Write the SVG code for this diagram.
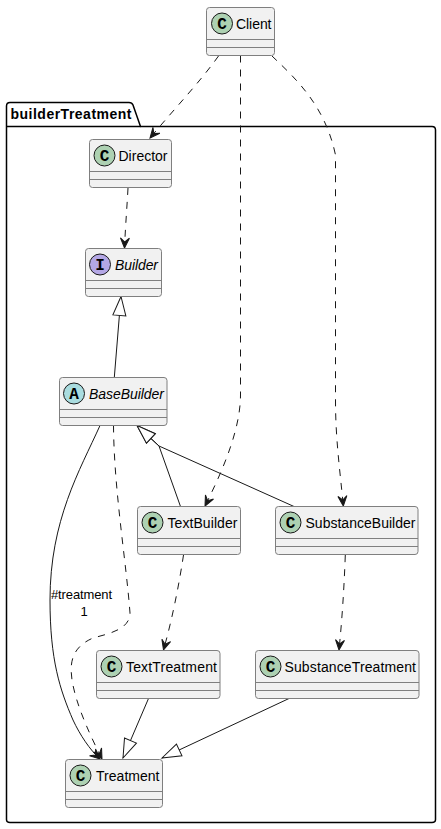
<svg xmlns="http://www.w3.org/2000/svg" width="441" height="829" viewBox="0 0 441 829">
<style>
text{font-family:"Liberation Sans",Arial,sans-serif;font-size:14px;fill:#000}
.i{font-style:italic}
.box{fill:#F1F1F1;stroke:#7f7f7f;stroke-width:1}
.div{stroke:#7f7f7f;stroke-width:1;fill:none}
.sp{stroke:#181818;stroke-width:1;fill:#ADD1B2}
.sp.int{fill:#B4A7E5}
.sp.abs{fill:#A9DCDF}
.g{font-family:"Liberation Mono",monospace;font-weight:bold;font-size:16px;text-anchor:middle}
.c{fill:none;stroke:#181818;stroke-width:1}
.d{stroke-dasharray:7 7;marker-end:url(#open)}
.s{marker-end:url(#open)}
.t{marker-end:url(#tri)}
.l{font-size:13px}
</style>
<defs>
<marker id="open" markerUnits="userSpaceOnUse" markerWidth="12" markerHeight="12" refX="10" refY="5.500" orient="auto" overflow="visible">
<path d="M10 5.500L0 1L4 5.500L0 10Z" fill="#181818" stroke="#181818" stroke-width="1" stroke-dasharray="none"/>
</marker>
<marker id="tri" markerUnits="userSpaceOnUse" markerWidth="22" markerHeight="16" refX="19" refY="8" orient="auto" overflow="visible">
<path d="M19 8L0 1.500V14.500Z" fill="#fff" stroke="#181818" stroke-width="1"/>
</marker>
</defs>
<g id="package-builderTreatment">
<path d="M10 102.500H129Q132 102.500 133 105L140.500 126.500H432Q435.500 126.500 435.500 130V819.500Q435.500 822.500 432 822.500H10Q6.500 822.500 6.500 819.500V106Q6.500 102.500 10 102.500Z" fill="#fff" stroke="#000" stroke-width="1.500"/>
<path d="M6.500 126.500H140.500" fill="none" stroke="#000" stroke-width="1.500"/>
<text x="10.500" y="119" font-weight="bold" textLength="121">builderTreatment</text>
</g>
<g id="connectors">
<path class="c d" d="M218.500 56C200 82 175 108 150 138"/>
<path class="c d" d="M128 188C127 207 125.500 225 124.500 248"/>
<path class="c d" d="M240.500 55.500V395C240.500 430 222 472 205 506"/>
<path class="c d" d="M272 56C295 78 325 105 335.500 155V400C335.500 440 340 470 343.300 506"/>
<path class="c t" d="M114.300 377.500L119.500 314L121 296.500"/>
<path class="c t" d="M180.500 506.500L159 446L137 425.500"/>
<path class="c t" d="M294 506.500L159 446L137 425.500"/>
<path class="c s" d="M100 425.500C80 470 50 520 50 600C50 660 60 690 73 720C80 735 90 750 100 759"/>
<path class="c d" d="M113.500 425.500C114 490 126 560 130 613C130 630 107 634 93 638C70 648 70 665 72 680C76 705 90 735 102 759"/>
<path class="c d" d="M183.500 555C179 585 172 620 163.500 650"/>
<path class="c d" d="M345.300 555C344 590 342 620 339 650"/>
<path class="c t" d="M148.500 698.500L123 758"/>
<path class="c t" d="M289 698.500L162 758"/>
<text class="l" x="51" y="598.500" textLength="61">#treatment</text>
<text class="l" x="80.500" y="616">1</text>
</g>
<g id="Client">
<rect class="box" x="206.500" y="7.500" width="68" height="48" rx="3"/>
<path class="div" d="M206.500 39.500H274.500M206.500 47.500H274.500"/>
<circle class="sp" cx="222" cy="23.500" r="10.500"/>
<text class="g" x="222" y="29">C</text>
<text x="236" y="28.500" textLength="35.500">Client</text>
</g>
<g id="Director">
<rect class="box" x="89.500" y="139.500" width="82" height="48" rx="3"/>
<path class="div" d="M89.500 171.500H171.500M89.500 179.500H171.500"/>
<circle class="sp" cx="104.500" cy="155.500" r="10.500"/>
<text class="g" x="104.500" y="161">C</text>
<text x="118.500" y="160.500" textLength="49">Director</text>
</g>
<g id="Builder">
<rect class="box" x="85.500" y="248.500" width="76" height="48" rx="3"/>
<path class="div" d="M85.500 280.500H161.500M85.500 288.500H161.500"/>
<circle class="sp int" cx="100" cy="264.500" r="10.500"/>
<text class="g" x="100" y="270">I</text>
<text class="i" x="115" y="269.500" textLength="43">Builder</text>
</g>
<g id="BaseBuilder">
<rect class="box" x="59.500" y="377.500" width="107.500" height="48" rx="3"/>
<path class="div" d="M59.500 409.500H167M59.500 417.500H167"/>
<circle class="sp abs" cx="74" cy="393.500" r="10.500"/>
<text class="g" x="74" y="399">A</text>
<text class="i" x="89" y="398.500" textLength="75">BaseBuilder</text>
</g>
<g id="TextBuilder">
<rect class="box" x="137.500" y="506.500" width="103" height="48" rx="3"/>
<path class="div" d="M137.500 538.500H240.500M137.500 546.500H240.500"/>
<circle class="sp" cx="152.500" cy="522.500" r="10.500"/>
<text class="g" x="152.500" y="528">C</text>
<text x="167.500" y="527.500" textLength="70">TextBuilder</text>
</g>
<g id="SubstanceBuilder">
<rect class="box" x="275.500" y="506.500" width="142.500" height="48" rx="3"/>
<path class="div" d="M275.500 538.500H418M275.500 546.500H418"/>
<circle class="sp" cx="290.500" cy="522.500" r="10.500"/>
<text class="g" x="290.500" y="528">C</text>
<text x="305.500" y="527.500" textLength="110">SubstanceBuilder</text>
</g>
<g id="TextTreatment">
<rect class="box" x="96.500" y="650.500" width="123.500" height="48" rx="3"/>
<path class="div" d="M96.500 682.500H220M96.500 690.500H220"/>
<circle class="sp" cx="111.500" cy="666.500" r="10.500"/>
<text class="g" x="111.500" y="672">C</text>
<text x="126" y="671.500" textLength="91">TextTreatment</text>
</g>
<g id="SubstanceTreatment">
<rect class="box" x="255.500" y="650.500" width="163.500" height="48" rx="3"/>
<path class="div" d="M255.500 682.500H419M255.500 690.500H419"/>
<circle class="sp" cx="270.500" cy="666.500" r="10.500"/>
<text class="g" x="270.500" y="672">C</text>
<text x="284.500" y="671.500" textLength="131.500">SubstanceTreatment</text>
</g>
<g id="Treatment">
<rect class="box" x="65.500" y="759.500" width="97" height="48" rx="3"/>
<path class="div" d="M65.500 791.500H162.500M65.500 799.500H162.500"/>
<circle class="sp" cx="80.500" cy="775.500" r="10.500"/>
<text class="g" x="80.500" y="781">C</text>
<text x="96" y="780.500" textLength="63.500">Treatment</text>
</g>
</svg>
